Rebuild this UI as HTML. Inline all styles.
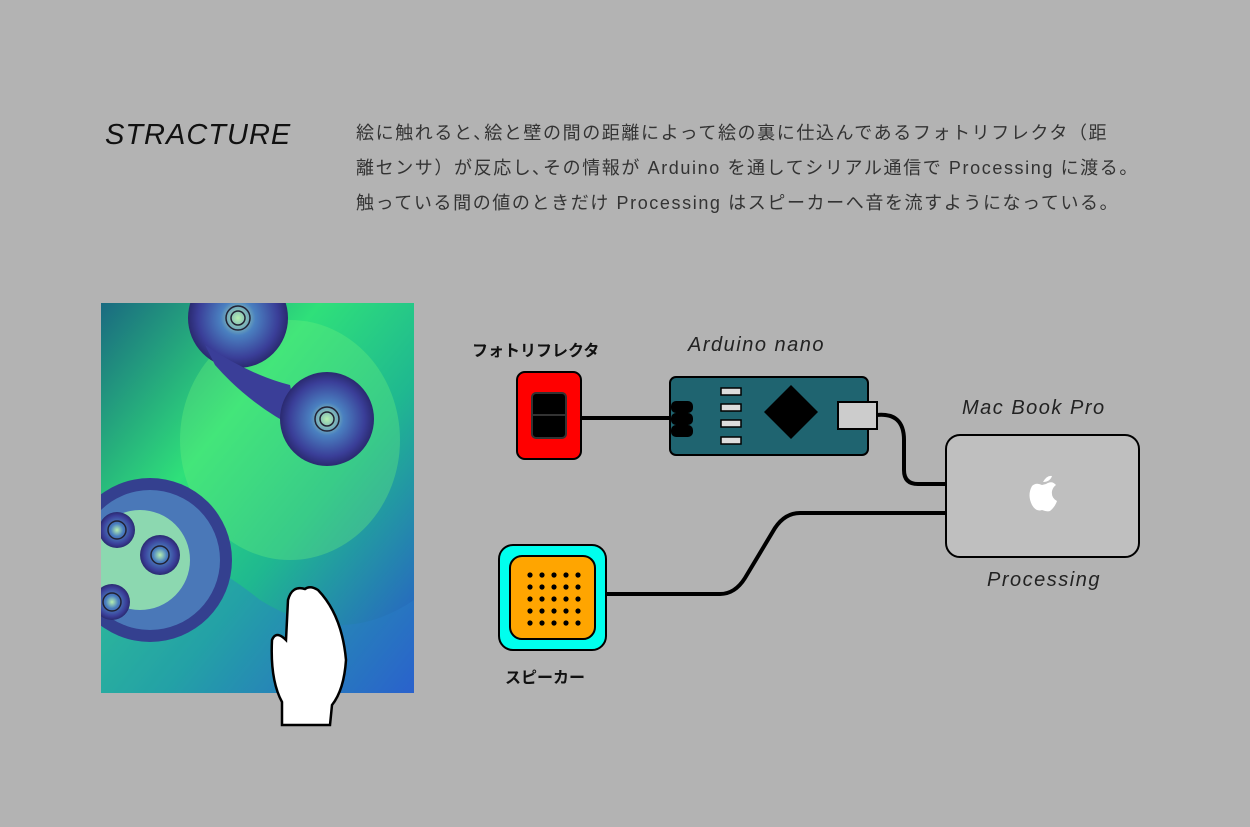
<!DOCTYPE html>
<html><head><meta charset="utf-8"><style>
body{margin:0;width:1250px;height:827px;background:#b3b3b3;overflow:hidden;position:relative;font-family:"Liberation Sans","Noto Sans CJK JP",sans-serif}
.t{position:absolute;color:#222;white-space:nowrap}
</style></head><body>
<div class="t" style="left:105px;top:119px;font-size:29px;font-style:italic;letter-spacing:1px;color:#111">STRACTURE</div>
<div class="t" style="left:356px;top:116px;font-size:18px;letter-spacing:1.6px;line-height:35px;color:#333">絵に触れると､絵と壁の間の距離によって絵の裏に仕込んであるフォトリフレクタ（距<br>離センサ）が反応し､その情報が Arduino を通してシリアル通信で Processing に渡る。<br>触っている間の値のときだけ Processing はスピーカーへ音を流すようになっている。</div>
<svg width="1250" height="827" style="position:absolute;left:0;top:0">
<defs>
<linearGradient id="bg" x1="0" y1="0" x2="1" y2="1"><stop offset="0" stop-color="#1a6a80"/><stop offset="0.35" stop-color="#2fe07a"/><stop offset="0.6" stop-color="#1fb890"/><stop offset="1" stop-color="#2a4ed0"/></linearGradient>
<radialGradient id="bl"><stop offset="0" stop-color="#b6f0b0"/><stop offset="0.35" stop-color="#4a80c0"/><stop offset="0.8" stop-color="#3a3e98"/><stop offset="1" stop-color="#2a2a70"/></radialGradient>
<clipPath id="cp"><rect x="101" y="303" width="313" height="390"/></clipPath>
</defs>
<g clip-path="url(#cp)">
<rect x="101" y="303" width="313" height="390" fill="url(#bg)"/>
<path d="M101 560 Q160 520 260 600 Q340 650 414 600 L414 693 L101 693Z" fill="#2a7fc8" opacity="0.4"/>
<ellipse cx="290" cy="440" rx="110" ry="120" fill="#6af07a" opacity="0.35"/>
<circle cx="238" cy="318" r="50" fill="url(#bl)"/>
<path d="M205 345 Q250 375 290 385 L300 430 Q250 405 215 365Z" fill="#3a3e98"/>
<circle cx="327" cy="419" r="47" fill="url(#bl)"/>
<circle cx="150" cy="560" r="82" fill="#34408f"/>
<circle cx="150" cy="560" r="70" fill="#4a78b8"/>
<circle cx="140" cy="560" r="50" fill="#8cd8b0"/>
<circle cx="117" cy="530" r="18" fill="url(#bl)"/><circle cx="160" cy="555" r="20" fill="url(#bl)"/><circle cx="112" cy="602" r="18" fill="url(#bl)"/>
<g fill="none" stroke="#223" stroke-width="1.5"><circle cx="238" cy="318" r="12"/><circle cx="238" cy="318" r="7"/><circle cx="327" cy="419" r="12"/><circle cx="327" cy="419" r="7"/><circle cx="117" cy="530" r="9"/><circle cx="160" cy="555" r="9"/><circle cx="112" cy="602" r="9"/></g>
</g>
<path d="M282 725 L282 702 Q270 680 272 640 Q276 630 286 640 L288 600 Q292 585 305 589 Q310 585 318 590 Q342 615 346 660 Q344 690 332 705 L330 725Z" fill="#fff" stroke="#000" stroke-width="2.5"/>
<g fill="none" stroke="#000" stroke-width="4">
<path d="M580 418 L672 418"/>
<path d="M876 415 Q904 412 904 440 L904 470 Q904 484 918 484 L948 484"/>
<path d="M606 594 L720 594 Q735 594 745 578 L775 528 Q785 513 800 513 L948 513"/>
</g>
<rect x="517" y="372" width="64" height="87" rx="8" fill="#f00" stroke="#000" stroke-width="2"/>
<rect x="532" y="393" width="34" height="45" rx="4" fill="#000" stroke="#333" stroke-width="2"/>
<line x1="533" y1="415" x2="565" y2="415" stroke="#333" stroke-width="2"/>
<rect x="670" y="377" width="198" height="78" rx="6" fill="#1f6470" stroke="#000" stroke-width="2"/>
<rect x="671" y="401" width="22" height="12" rx="5" fill="#000"/><rect x="671" y="413" width="22" height="12" rx="5" fill="#000"/><rect x="671" y="425" width="22" height="12" rx="5" fill="#000"/>
<g fill="#ddd" stroke="#000" stroke-width="1.5"><rect x="721" y="388" width="20" height="7"/><rect x="721" y="404" width="20" height="7"/><rect x="721" y="420" width="20" height="7"/><rect x="721" y="437" width="20" height="7"/></g>
<path d="M791 385 L818 412 L791 439 L764 412Z" fill="#000"/>
<rect x="838" y="402" width="39" height="27" fill="#ccc" stroke="#000" stroke-width="2"/>
<rect x="946" y="435" width="193" height="122" rx="14" fill="#bfbfbf" stroke="#000" stroke-width="2"/>
<path d="M1043 482 Q1047 475 1052 476 Q1050 482 1043 482Z M1042 485 Q1036 482 1032 486 Q1027 495 1032 505 Q1036 512 1042 510 Q1047 512 1050 511 Q1055 507 1057 501 Q1051 498 1052 491 Q1053 487 1056 485 Q1052 480 1046 484 Z" fill="#fff"/>
<rect x="499" y="545" width="107" height="105" rx="14" fill="#00ffee" stroke="#000" stroke-width="2"/>
<rect x="510" y="556" width="85" height="83" rx="12" fill="#ffa500" stroke="#000" stroke-width="2"/>
<g fill="#000">
<circle cx="530" cy="575" r="2.6"/><circle cx="542" cy="575" r="2.6"/><circle cx="554" cy="575" r="2.6"/><circle cx="566" cy="575" r="2.6"/><circle cx="578" cy="575" r="2.6"/>
<circle cx="530" cy="587" r="2.6"/><circle cx="542" cy="587" r="2.6"/><circle cx="554" cy="587" r="2.6"/><circle cx="566" cy="587" r="2.6"/><circle cx="578" cy="587" r="2.6"/>
<circle cx="530" cy="599" r="2.6"/><circle cx="542" cy="599" r="2.6"/><circle cx="554" cy="599" r="2.6"/><circle cx="566" cy="599" r="2.6"/><circle cx="578" cy="599" r="2.6"/>
<circle cx="530" cy="611" r="2.6"/><circle cx="542" cy="611" r="2.6"/><circle cx="554" cy="611" r="2.6"/><circle cx="566" cy="611" r="2.6"/><circle cx="578" cy="611" r="2.6"/>
<circle cx="530" cy="623" r="2.6"/><circle cx="542" cy="623" r="2.6"/><circle cx="554" cy="623" r="2.6"/><circle cx="566" cy="623" r="2.6"/><circle cx="578" cy="623" r="2.6"/>
</g>
</svg>
<div class="t" style="left:472px;top:337px;font-size:16px;font-weight:bold;color:#111">フォトリフレクタ</div>
<div class="t" style="left:688px;top:334px;font-size:20px;font-style:italic;letter-spacing:1.5px;color:#222">Arduino nano</div>
<div class="t" style="left:962px;top:397px;font-size:20px;font-style:italic;letter-spacing:1.5px;color:#222">Mac Book Pro</div>
<div class="t" style="left:987px;top:569px;font-size:20px;font-style:italic;letter-spacing:1.5px;color:#222">Processing</div>
<div class="t" style="left:505px;top:664px;font-size:16px;font-weight:bold;color:#111">スピーカー</div>
</body></html>
